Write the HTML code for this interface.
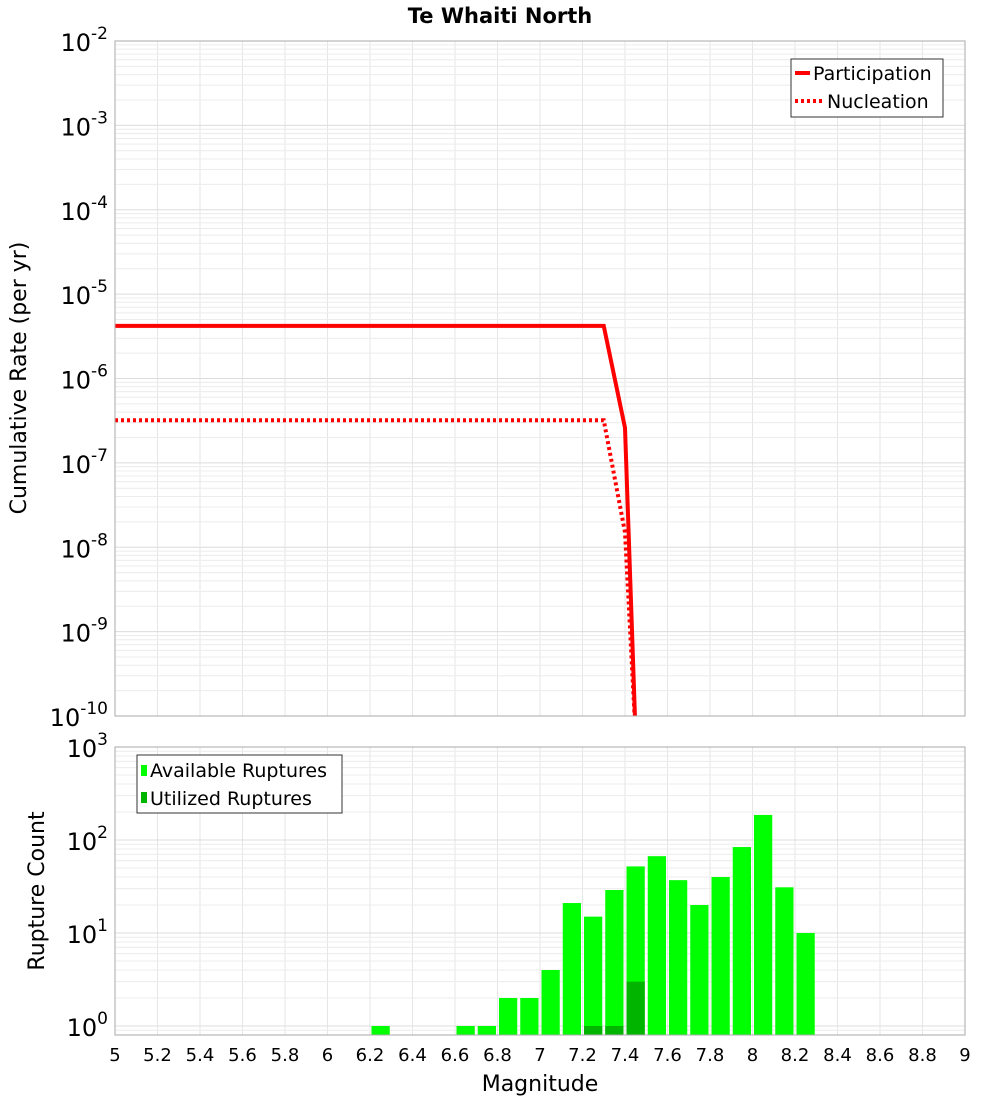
<!DOCTYPE html>
<html><head><meta charset="utf-8"><style>
body{margin:0;background:#fff;font-family:"Liberation Sans","DejaVu Sans",sans-serif;}
svg text{font-family:"DejaVu Sans","Liberation Sans",sans-serif;}
</style></head><body>
<svg id="chart" width="1000" height="1100" xmlns="http://www.w3.org/2000/svg">
<text x="500" y="23" text-anchor="middle" font-size="21" font-weight="bold">Te Whaiti North</text>
<g id="topPlot"></g>
<g id="botPlot"></g>
</svg>
<script>
const mags = [5.0, 7.3, 7.4, 7.45];
const participation = [4.2e-6, 4.2e-6, 2.6e-7, 1e-11];
const nucleation = [3.2e-7, 3.2e-7, 1.5e-8, 1e-11];
const binCenters = [6.25,6.65,6.75,6.85,6.95,7.05,7.15,7.25,7.35,7.45,7.55,7.65,7.75,7.85,7.95,8.05,8.15,8.25];
const available = [1,1,1,2,2,4,21,15,29,52,67,37,20,40,84,186,31,10];
const utilCenters = [7.25,7.35,7.45];
const utilized = [1,1,3];
const xTicks = [5,5.2,5.4,5.6,5.8,6,6.2,6.4,6.6,6.8,7,7.2,7.4,7.6,7.8,8,8.2,8.4,8.6,8.8,9];

const NS="http://www.w3.org/2000/svg";
function mk(p,t,a,txt){const e=document.createElementNS(NS,t);for(const k in a)e.setAttribute(k,a[k]);if(txt!==undefined)e.textContent=txt;p.appendChild(e);return e;}
const X0=115,X1=965;
const xs=m=>X0+(m-5)/4*(X1-X0);
const T0=41,T1=716;
const ty=v=>T0+(-2-Math.log10(v))*(T1-T0)/8;
const B0=747,B1=1035;
const by=v=>1026-Math.log10(v)*93;
const topG=document.getElementById('topPlot'),botG=document.getElementById('botPlot');

function grid(g,y0,y1,decFn,dmin,dmax){
  for(const t of xTicks){const l=mk(g,'line',{x1:xs(t),x2:xs(t),y1:y0,y2:y1,stroke:'#e6e6e6'});
    }
  for(let d=dmin;d<dmax;d++)for(let k=1;k<10;k++){const y=decFn(k*Math.pow(10,d));if(y<y0||y>y1)continue;
    const l=mk(g,'line',{x1:X0,x2:X1,y1:y,y2:y,stroke:k==1?'#dcdcdc':'#ececec'});
    }
}
grid(topG,T0,T1,ty,-10,-1);
grid(botG,B0,B1,by,-1,3);

function path(arr){return mags.map((m,i)=>(i?'L':'M')+xs(m)+','+Math.min(ty(arr[i]),T1+20)).join(' ');}
const clip=mk(topG,'clipPath',{id:'cp'});mk(clip,'rect',{x:X0,y:T0,width:X1-X0,height:T1-T0});
let p=mk(topG,'path',{d:path(participation),fill:'none',stroke:'#f00','stroke-width':4,'clip-path':'url(#cp)'});

p=mk(topG,'path',{d:path(nucleation),fill:'none',stroke:'#f00','stroke-width':4,'stroke-dasharray':'3,3','clip-path':'url(#cp)'});

mk(topG,'rect',{x:X0,y:T0,width:X1-X0,height:T1-T0,fill:'none',stroke:'#aaa'});
for(let d=-2;d>=-10;d--){const y=ty(Math.pow(10,d));
  const t=mk(topG,'text',{x:108,y:y+10,'text-anchor':'end','font-size':24});
  
  mk(t,'tspan',{},'10');mk(t,'tspan',{dy:-12,'font-size':17},String(d));}
let yt=mk(topG,'text',{x:26,y:378,'text-anchor':'middle','font-size':22,transform:'rotate(-90 26 378)'},'Cumulative Rate (per yr)');

const lg=mk(topG,'g',{});
mk(lg,'rect',{x:791,y:59,width:152,height:58,fill:'#fff',stroke:'#333'});
mk(lg,'line',{x1:795,x2:810,y1:73,y2:73,stroke:'#f00','stroke-width':4});
mk(lg,'text',{x:813,y:80,'font-size':19},'Participation');
mk(lg,'line',{x1:795,x2:822,y1:101,y2:101,stroke:'#f00','stroke-width':4,'stroke-dasharray':'3,3'});
mk(lg,'text',{x:827,y:108,'font-size':19},'Nucleation');

const bw=xs(5.1)-xs(5)-3;
binCenters.forEach((c,i)=>{const y=by(available[i]);
  const r=mk(botG,'rect',{x:xs(c)-bw/2,y:y,width:bw,height:B1-y,fill:'#00ff00'});
  });
utilCenters.forEach((c,i)=>{const y=by(utilized[i]);
  const r=mk(botG,'rect',{x:xs(c)-bw/2,y:y,width:bw,height:B1-y,fill:'#00b400'});
  });
mk(botG,'rect',{x:X0,y:B0,width:X1-X0,height:B1-B0,fill:'none',stroke:'#aaa'});
for(let d=0;d<=3;d++){const y=by(Math.pow(10,d));
  const t=mk(botG,'text',{x:108,y:y+10,'text-anchor':'end','font-size':24});
  
  mk(t,'tspan',{},'10');mk(t,'tspan',{dy:-12,'font-size':17},String(d));}
for(const t of xTicks){const l=mk(botG,'text',{x:xs(t),y:1061,'text-anchor':'middle','font-size':18},String(t));
  }
yt=mk(botG,'text',{x:44,y:891,'text-anchor':'middle','font-size':22,transform:'rotate(-90 44 891)'},'Rupture Count');

yt=mk(botG,'text',{x:540,y:1091,'text-anchor':'middle','font-size':22},'Magnitude');

const lg2=mk(botG,'g',{});
mk(lg2,'rect',{x:137,y:755,width:205,height:58,fill:'#fff',stroke:'#333'});
mk(lg2,'rect',{x:141,y:765,width:6,height:11,fill:'#00ff00'});
mk(lg2,'text',{x:150,y:777,'font-size':19},'Available Ruptures');
mk(lg2,'rect',{x:141,y:792,width:6,height:11,fill:'#00b400'});
mk(lg2,'text',{x:150,y:805,'font-size':19},'Utilized Ruptures');
</script>
</body></html>
